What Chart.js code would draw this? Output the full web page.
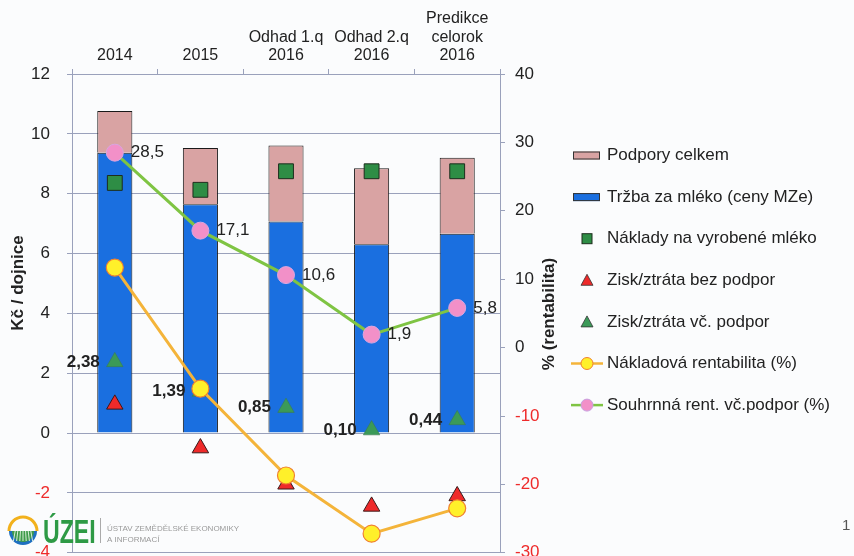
<!DOCTYPE html>
<html>
<head>
<meta charset="utf-8">
<script src="https://cdn.jsdelivr.net/npm/chart.js@4.4.1/dist/chart.umd.min.js"></script>
<style>
    html, body { margin: 0; padding: 0; overflow: hidden; background: #fbfcfd; }
    #wrap { width: 854px; height: 580px; position: relative; }
</style>
</head>
<body>
<div id="wrap"><canvas id="chart"></canvas></div>
<script>
// categories (top axis)
const categories = ["2014", "2015", ["Odhad 1.q", "2016"], ["Odhad 2.q", "2016"], ["Predikce", "celorok", "2016"]];

// Kč / dojnice (left axis)
const trzba = [9.37, 7.65, 7.07, 6.31, 6.66];
const podpory = [1.39, 1.88, 2.54, 2.54, 2.54];
const naklady = [8.36, 8.13, 8.75, 8.75, 8.75];
const ziskBezPodpor = [0.96, -0.50, -1.71, -2.45, -2.10];
const ziskVcPodpor = [2.38, 1.39, 0.85, 0.10, 0.44];

// % (right axis)
const nakladovaRent = [11.7, -6.0, -18.7, -27.2, -23.5];
const souhrnnaRent = [28.5, 17.1, 10.6, 1.9, 5.8];

// tick labels
const leftTicks = [-4, -2, 0, 2, 4, 6, 8, 10, 12];
const rightTicks = [-30, -20, -10, 0, 10, 20, 30, 40];

const FONT = "'Liberation Sans', Arial, sans-serif";
const gridColor = "#9aa1bb";
const textColor = "#222";
const negColor = "#ee2b2b";

function comma(v, d) {
    return v.toFixed(d).replace(".", ",");
}

const bgPlugin = {
    id: "bg",
    beforeDraw(chart) {
        const c = chart.ctx;
        c.save();
        c.fillStyle = "#fbfcfd";
        c.fillRect(0, 0, chart.width, chart.height);
        c.restore();
    }
};

// value labels next to the points
const labelPlugin = {
    id: "valueLabels",
    afterDatasetsDraw(chart) {
        const c = chart.ctx;
        c.save();
        c.textBaseline = "middle";
        c.fillStyle = textColor;

        const pink = chart.getDatasetMeta(6);
        c.font = "17px " + FONT;
        c.textAlign = "left";
        pink.data.forEach((pt, i) => {
            c.fillText(comma(souhrnnaRent[i], 1), pt.x + 16, pt.y);
        });

        const green = chart.getDatasetMeta(4);
        c.font = "bold 17px " + FONT;
        c.textAlign = "right";
        green.data.forEach((pt, i) => {
            c.fillText(comma(ziskVcPodpor[i], 2), pt.x - 15, pt.y);
        });
        c.restore();
    }
};

const legendItems = [
    { text: "Podpory celkem", kind: "bar", fill: "#d9a3a3" },
    { text: "Tržba za mléko (ceny MZe)", kind: "bar", fill: "#1a6fe0" },
    { text: "Náklady na vyrobené mléko", kind: "square", fill: "#2e8d45" },
    { text: "Zisk/ztráta bez podpor", kind: "triangle", fill: "#ee2a2a" },
    { text: "Zisk/ztráta vč. podpor", kind: "triangle", fill: "#3b9a58" },
    { text: "Nákladová rentabilita (%)", kind: "line", fill: "#fff02a", line: "#f4b43a", border: "#f08030" },
    { text: "Souhrnná rent. vč.podpor (%)", kind: "line", fill: "#f290c8", line: "#7fc443", border: "#c9a0e0" }
];

// legend, axis titles, logo
const decorPlugin = {
    id: "decor",
    afterDraw(chart) {
        const c = chart.ctx;
        c.save();

        // legend
        const mx = 587;
        legendItems.forEach((it, i) => {
            const y = 155.5 + i * 41.6;
            if (it.kind === "bar") {
                c.fillStyle = it.fill;
                c.fillRect(573, y - 4, 27, 8);
                c.strokeStyle = "#333";
                c.lineWidth = 1;
                c.strokeRect(573.5, y - 3.5, 26, 7);
            } else if (it.kind === "square") {
                c.fillStyle = it.fill;
                c.fillRect(mx - 5, y - 5, 10, 10);
                c.strokeStyle = "#1d2d1d";
                c.strokeRect(mx - 5, y - 5, 10, 10);
            } else if (it.kind === "triangle") {
                c.beginPath();
                c.moveTo(mx, y - 6);
                c.lineTo(mx + 6, y + 5);
                c.lineTo(mx - 6, y + 5);
                c.closePath();
                c.fillStyle = it.fill;
                c.fill();
                c.strokeStyle = "#333";
                c.lineWidth = 0.8;
                c.stroke();
            } else {
                c.strokeStyle = it.line;
                c.lineWidth = 2.5;
                c.beginPath();
                c.moveTo(571, y);
                c.lineTo(603, y);
                c.stroke();
                c.beginPath();
                c.arc(mx, y, 6, 0, Math.PI * 2);
                c.fillStyle = it.fill;
                c.fill();
                c.strokeStyle = it.border;
                c.lineWidth = 1;
                c.stroke();
            }
            c.fillStyle = textColor;
            c.font = "17px " + FONT;
            c.textAlign = "left";
            c.textBaseline = "middle";
            c.fillText(it.text, 607, y);
        });

        // axis titles
        c.font = "bold 17px " + FONT;
        c.fillStyle = textColor;
        c.textAlign = "center";
        c.textBaseline = "middle";
        c.save();
        c.translate(18, 283);
        c.rotate(-Math.PI / 2);
        c.fillText("Kč / dojnice", 0, 0);
        c.restore();
        c.save();
        c.translate(549, 314);
        c.rotate(-Math.PI / 2);
        c.fillText("% (rentabilita)", 0, 0);
        c.restore();

        // logo
        c.beginPath();
        c.arc(23, 531, 14, Math.PI, 0);
        c.strokeStyle = "#f2b11c";
        c.lineWidth = 3;
        c.stroke();
        c.beginPath();
        c.arc(23, 531, 14, 0, Math.PI);
        c.closePath();
        c.fillStyle = "#1e6fc0";
        c.fill();
        c.beginPath();
        c.arc(23, 531, 11, 0, Math.PI);
        c.closePath();
        c.fillStyle = "#3f9a4a";
        c.fill();
        c.strokeStyle = "#d8eed8";
        c.lineWidth = 1;
        for (let k = -3; k <= 3; k++) {
            c.beginPath();
            c.moveTo(23 + k * 2.6, 531);
            c.lineTo(23 + k * 3.2, 541);
            c.stroke();
        }
        c.save();
        c.translate(43, 543);
        c.scale(0.68, 1);
        c.font = "bold 34px " + FONT;
        c.fillStyle = "#2e9a45";
        c.textAlign = "left";
        c.textBaseline = "alphabetic";
        c.fillText("ÚZEI", 0, 0);
        c.restore();
        c.strokeStyle = "#aaa";
        c.lineWidth = 1;
        c.beginPath();
        c.moveTo(100.5, 518);
        c.lineTo(100.5, 543);
        c.stroke();
        c.font = "8px " + FONT;
        c.fillStyle = "#9a9a9a";
        c.textAlign = "left";
        c.textBaseline = "alphabetic";
        c.fillText("ÚSTAV ZEMĚDĚLSKÉ EKONOMIKY", 107, 531);
        c.fillText("A INFORMACÍ", 107, 542);

        // page number
        c.font = "15px " + FONT;
        c.fillStyle = "#555";
        c.fillText("1", 842, 530);
        c.restore();
    }
};

const tickColor = ctx => (ctx.tick && ctx.tick.value < 0 ? negColor : textColor);

new Chart(document.getElementById("chart"), {
    data: {
        labels: categories,
        datasets: [
            {
                type: "bar", label: "Tržba za mléko (ceny MZe)", data: trzba,
                backgroundColor: "#1a6fe0", borderColor: "#1a1a1a", borderWidth: 1,
                stack: "bars", order: 10, yAxisID: "y",
                barPercentage: 0.41, categoryPercentage: 1
            },
            {
                type: "bar", label: "Podpory celkem", data: podpory,
                backgroundColor: "#d9a3a3", borderColor: "#1a1a1a", borderWidth: 1,
                stack: "bars", order: 10, yAxisID: "y",
                barPercentage: 0.41, categoryPercentage: 1
            },
            {
                type: "line", label: "Náklady na vyrobené mléko", data: naklady,
                showLine: false, pointStyle: "rect", pointRadius: 10.5,
                backgroundColor: "#2e8d45", borderColor: "#1d2d1d", borderWidth: 1,
                stack: "s1", order: 2, yAxisID: "y"
            },
            {
                type: "line", label: "Zisk/ztráta bez podpor", data: ziskBezPodpor,
                showLine: false, pointStyle: "triangle", pointRadius: 9.5,
                backgroundColor: "#ee2a2a", borderColor: "#3a1a1a", borderWidth: 1,
                stack: "s2", order: 2, yAxisID: "y"
            },
            {
                type: "line", label: "Zisk/ztráta vč. podpor", data: ziskVcPodpor,
                showLine: false, pointStyle: "triangle", pointRadius: 9.5,
                backgroundColor: "#3b9a58", borderColor: "#3b7a50", borderWidth: 0.6,
                stack: "s3", order: 2, yAxisID: "y"
            },
            {
                type: "line", label: "Nákladová rentabilita (%)", data: nakladovaRent,
                borderColor: "#f4b43a", borderWidth: 3,
                pointRadius: 8.5, pointBackgroundColor: "#fff02a",
                pointBorderColor: "#f08030", pointBorderWidth: 1.2,
                order: 0, yAxisID: "y2"
            },
            {
                type: "line", label: "Souhrnná rent. vč.podpor (%)", data: souhrnnaRent,
                borderColor: "#7fc443", borderWidth: 3,
                pointRadius: 8.5, pointBackgroundColor: "#f290c8",
                pointBorderColor: "#d8a6e0", pointBorderWidth: 1,
                order: 0, yAxisID: "y2"
            }
        ]
    },
    options: {
        responsive: true,
        maintainAspectRatio: false,
        devicePixelRatio: 1,
        animation: false,
        events: [],
        layout: { padding: { left: 0, top: 0, right: 284, bottom: 0 } },
        plugins: {
            legend: { display: false },
            tooltip: { enabled: false }
        },
        scales: {
            x: {
                type: "category",
                position: "top",
                stacked: true,
                offset: true,
                grid: { drawOnChartArea: false, tickLength: 5, color: gridColor, offset: true },
                border: { display: true, color: gridColor },
                ticks: {
                    font: { family: FONT, size: 16, lineHeight: 1.16 },
                    color: textColor, padding: 4, maxRotation: 0, autoSkip: false
                },
                afterFit(scale) { scale.height = 74; }
            },
            y: {
                position: "left",
                stacked: true,
                min: leftTicks[0],
                max: leftTicks[leftTicks.length - 1],
                grid: { color: gridColor, tickLength: 5 },
                border: { display: true, color: gridColor },
                ticks: {
                    stepSize: 2,
                    font: { family: FONT, size: 17 },
                    color: tickColor, padding: 17,
                    callback: v => String(v)
                },
                afterFit(scale) { scale.width = 72; }
            },
            y2: {
                position: "right",
                min: rightTicks[0],
                max: rightTicks[rightTicks.length - 1],
                grid: { drawOnChartArea: false, color: gridColor, tickLength: 5 },
                border: { display: true, color: gridColor },
                ticks: {
                    stepSize: 10,
                    font: { family: FONT, size: 17 },
                    color: tickColor, padding: 10,
                    callback: v => String(v)
                },
                afterFit(scale) { scale.width = 70; }
            }
        }
    },
    plugins: [bgPlugin, labelPlugin, decorPlugin]
});
</script>
</body>
</html>
